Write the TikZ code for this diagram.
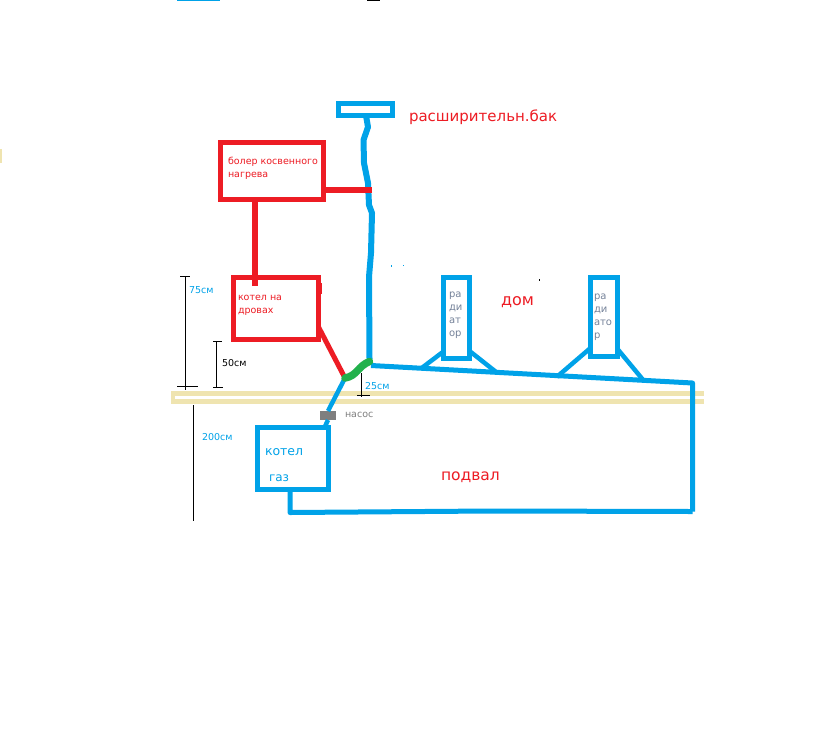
\documentclass[tikz,border=0pt]{standalone}
\usepackage{fontspec}
\setmainfont{DejaVu Sans}
\definecolor{pblue}{HTML}{00A2E8}
\definecolor{pred}{HTML}{ED1C24}
\definecolor{pgreen}{HTML}{22B14C}
\definecolor{ptan}{HTML}{EFE4B0}
\definecolor{pgray}{HTML}{7F7F7F}
\definecolor{tgray}{HTML}{76839A}
\tikzset{
  bluebox/.style={draw=pblue,line width=5pt,fill=white,inner sep=0pt,outer sep=0pt},
  redbox/.style={draw=pred,line width=5pt,inner sep=0pt,outer sep=0pt},
  bluepipe/.style={draw=pblue,line width=5pt,line join=round},
  redpipe/.style={draw=pred,line width=6.5pt},
  dimline/.style={draw=black,line width=1pt},
  floorband/.style={fill=ptan,draw=none},
  lbl/.style={anchor=base west,inner sep=0pt,outer sep=0pt,align=left},
}
\newcommand{\fs}[1]{\fontsize{#1}{#1}\selectfont}
\begin{document}
\begin{tikzpicture}[x=1pt,y=-1pt]
\useasboundingbox (0,0) rectangle (834,742);
\fill[white] (0,0) rectangle (834,742);
% edge fragments
\fill[pblue] (177,0) rectangle (220,1);
\fill[black] (367,0) rectangle (380,1);
\fill[ptan] (0,149) rectangle (2,163);
% floor
\fill[floorband] (171,391) rectangle (704,396);
\fill[floorband] (171,398.5) rectangle (704,404);
\fill[floorband] (171,391) rectangle (175,404);
% boxes
\node[bluebox,minimum width=54pt,minimum height=12pt] (tank) at (365.5,109.5) {};
\node[redbox,minimum width=103pt,minimum height=57pt] (boiler) at (272,171) {};
\node[redbox,minimum width=85pt,minimum height=62pt] (wood) at (276,308.5) {};
\node[bluebox,minimum width=71pt,minimum height=62pt] (gas) at (293,458.5) {};
\node[bluebox,minimum width=26pt,minimum height=81pt] (rad1) at (456.5,318) {};
\node[bluebox,minimum width=27pt,minimum height=79pt] (rad2) at (604,317) {};
\node[fill=pgray,minimum width=16pt,minimum height=9pt,inner sep=0pt,outer sep=0pt] (pump) at (328,415.5) {};
% coordinates
\coordinate (j) at (369.5,359);
\coordinate (s) at (371,365.5);
\coordinate (c) at (692.5,383);
\coordinate (d) at (692.5,511.5);
\coordinate (e) at (290,512.5);
\coordinate (t) at (345,378);
\coordinate (a1) at (421.7,368);
\coordinate (a2) at (496.7,372.5);
\coordinate (b1) at (556.7,377);
\coordinate (b2) at (644,381);
% blue pipework
\draw[bluepipe,line width=6pt] (tank.south -| 366,118) -- (368,127) -- (363.5,140) -- (364,163) -- (368,183) -- (369,205) -- (372,213) -- (371,253) -- (369,277) -- (j);
\draw[bluepipe,line cap=square] (s) -- (c) -- (d);
\draw[bluepipe,line cap=square] (d) -- (490,511) -- (e) -- (gas.south -| e);
\draw[bluepipe,line width=4.5pt] (a1) -- (rad1.south west |- 0,351.5);
\draw[bluepipe,line width=4.5pt] (rad1.south east |- 0,351) -- (a2);
\draw[bluepipe,line width=4.5pt] (b1) -- (rad2.south west |- 0,348);
\draw[bluepipe,line width=4.5pt] (rad2.south east |- 0,349) -- (b2);
\draw[bluepipe,line width=4.5pt] (t) -- (pump.north) (pump.south) -- (gas.north -| 324.5,425);
% red pipework
\draw[redpipe] (boiler.south -| wood.north -| 255,200) -- (255,286);
\draw[redpipe] (boiler.east |- 0,190) -- (371.5,190);
\draw[redpipe,line width=5pt] (wood.east |- 0,327) -- (t);
% green joint
\draw[pgreen,line width=7.5pt,line cap=round] (t) .. controls (357,376) and (358,366) .. (369.5,361.5);
% dimensions
\coordinate (d75t) at (185,277); \coordinate (d75b) at (185,387);
\draw[dimline] (d75t) -- (d75b) (180,276.5) -- (190,276.5) (177,386.5) -- (198,386.5) (185.5,387) -- (185.5,390);
\coordinate (d50t) at (216.5,341); \coordinate (d50b) at (216.5,387);
\draw[dimline] (d50t) -- (d50b) (213,341) -- (222,341) (213,387) -- (223,387);
\coordinate (d25t) at (361.7,373); \coordinate (d25b) at (361.7,397);
\draw[dimline] (d25t) -- (d25b) (357,395) -- (370,395);
\coordinate (d200t) at (193,405); \coordinate (d200b) at (193,520.5);
\draw[dimline] (d200t) -- (d200b);
% specks
\fill[black] (539,279) rectangle (540,281);
\fill[pblue] (391,265) rectangle (392,266.5);
\fill[pblue] (403,265) rectangle (404,266);
\fill[pred] (321,283) rectangle (322,294);
% labels
\node[lbl,text=pred,font=\fs{15}] (ltank) at (409,121) {расширительн.бак};
\node[lbl,text=pred,font=\fs{9.5}] (lb1) at (228,164.5) {болер косвенного};
\node[lbl,text=pred,font=\fs{9.5}] (lb2) at (228,177.5) {нагрева};
\node[lbl,text=pred,font=\fs{9.5}] (lw1) at (238,300.5) {котел на};
\node[lbl,text=pred,font=\fs{9.5}] (lw2) at (238,313.5) {дровах};
\node[lbl,text=pblue,font=\fs{12.5}] (lg1) at (265,455) {котел};
\node[lbl,text=pblue,font=\fs{12}] (lg2) at (269,481.5) {газ};
\node[lbl,text=pred,font=\fs{16}] (ldom) at (501,305) {дом};
\node[lbl,text=pred,font=\fs{15.5}] (lpod) at (441,480) {подвал};
\node[lbl,text=pgray,font=\fs{9.5}] (lpump) at (345,417) {насос};
\node[lbl,text=pblue,font=\fs{9.5}] (l75) at (189,293) {75см};
\node[lbl,text=black,font=\fs{9.5}] (l50) at (222,366.5) {50см};
\node[lbl,text=pblue,font=\fs{9.5}] (l25) at (365,389.5) {25см};
\node[lbl,text=pblue,font=\fs{9.5}] (l200) at (202,440.5) {200см};
\node[lbl,text=tgray,font=\fs{10}] (r1a) at (449,297) {ра};
\node[lbl,text=tgray,font=\fs{10}] (r1b) at (449,310) {ди};
\node[lbl,text=tgray,font=\fs{10}] (r1c) at (449,323) {ат};
\node[lbl,text=tgray,font=\fs{10}] (r1d) at (449,336) {ор};
\node[lbl,text=tgray,font=\fs{10}] (r2a) at (594,299) {ра};
\node[lbl,text=tgray,font=\fs{10}] (r2b) at (594,312) {ди};
\node[lbl,text=tgray,font=\fs{10}] (r2c) at (594,325) {ато};
\node[lbl,text=tgray,font=\fs{10}] (r2d) at (594,338) {р};
\end{tikzpicture}
\end{document}
